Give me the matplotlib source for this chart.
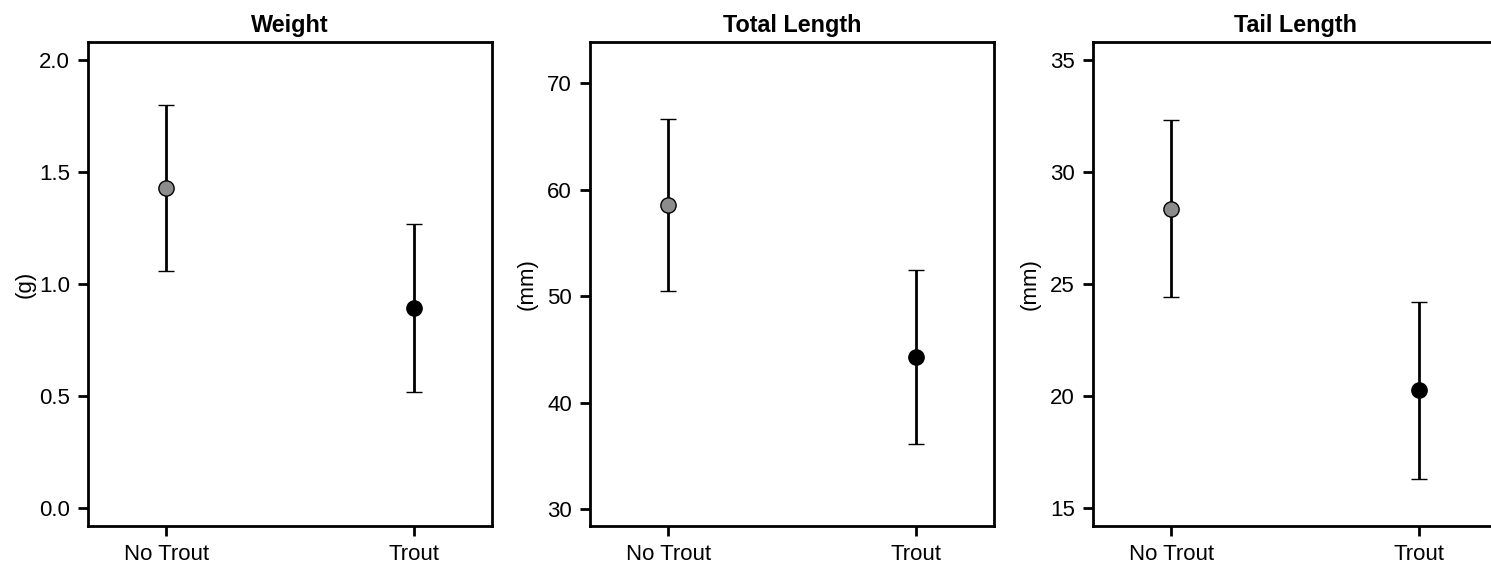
import matplotlib.pyplot as plt

plt.rcParams['font.family'] = ['Liberation Sans', 'DejaVu Sans']

# Group labels on the x axis
groups = ["No Trout", "Trout"]

# Means and lower/upper interval bounds
weight_mean = [1.43, 0.895]
weight_low = [1.06, 0.52]
weight_high = [1.80, 1.27]

total_mean = [58.6, 44.3]
total_low = [50.5, 36.1]
total_high = [66.7, 52.5]

tail_mean = [28.35, 20.25]
tail_low = [24.4, 16.3]
tail_high = [32.3, 24.2]

titles = ["Weight", "Total Length", "Tail Length"]
units = ["(g)", "(mm)", "(mm)"]
yticks = [[0.0, 0.5, 1.0, 1.5, 2.0], [30, 40, 50, 60, 70], [15, 20, 25, 30, 35]]
ylims = [(-0.08, 2.08), (28.4, 73.9), (14.2, 35.8)]
ytick_fmt = ["{:.1f}", "{:g}", "{:g}"]

panels = [
    (weight_mean, weight_low, weight_high),
    (total_mean, total_low, total_high),
    (tail_mean, tail_low, tail_high),
]

fig = plt.figure(figsize=(14.91, 5.68), dpi=100)
lefts = [88 / 1491, 590 / 1491, 1093 / 1491]
width = 404 / 1491
fill_colors = ["#8c8c8c", "black"]

for i, (mean, low, high) in enumerate(panels):
    ax = fig.add_axes([lefts[i], 42 / 568, width, 484 / 568])
    x = [1, 2]
    for j in range(2):
        ax.errorbar(x[j], mean[j],
                    yerr=[[mean[j] - low[j]], [high[j] - mean[j]]],
                    fmt="o", color="black", ecolor="black", elinewidth=2.0,
                    capsize=5.5, capthick=2.0, markersize=11,
                    markerfacecolor=fill_colors[j], markeredgecolor="black",
                    markeredgewidth=1.0, zorder=3)
    ax.set_xlim(0.685, 2.315)
    ax.set_ylim(*ylims[i])
    ax.set_xticks(x)
    ax.set_xticklabels(groups)
    ax.set_yticks(yticks[i])
    ax.set_yticklabels([ytick_fmt[i].format(v) for v in yticks[i]])
    ax.tick_params(direction="out", length=7, width=2.0, labelsize=16, pad=6)
    for s in ax.spines.values():
        s.set_linewidth(2.0)
    ax.set_title(titles[i], fontsize=16.8, fontweight="bold", pad=7)
    ax.set_ylabel(units[i], fontsize=16)
    ax.yaxis.set_label_coords(-52 / 404, 0.5)

fig.savefig("out.png", dpi=100)
